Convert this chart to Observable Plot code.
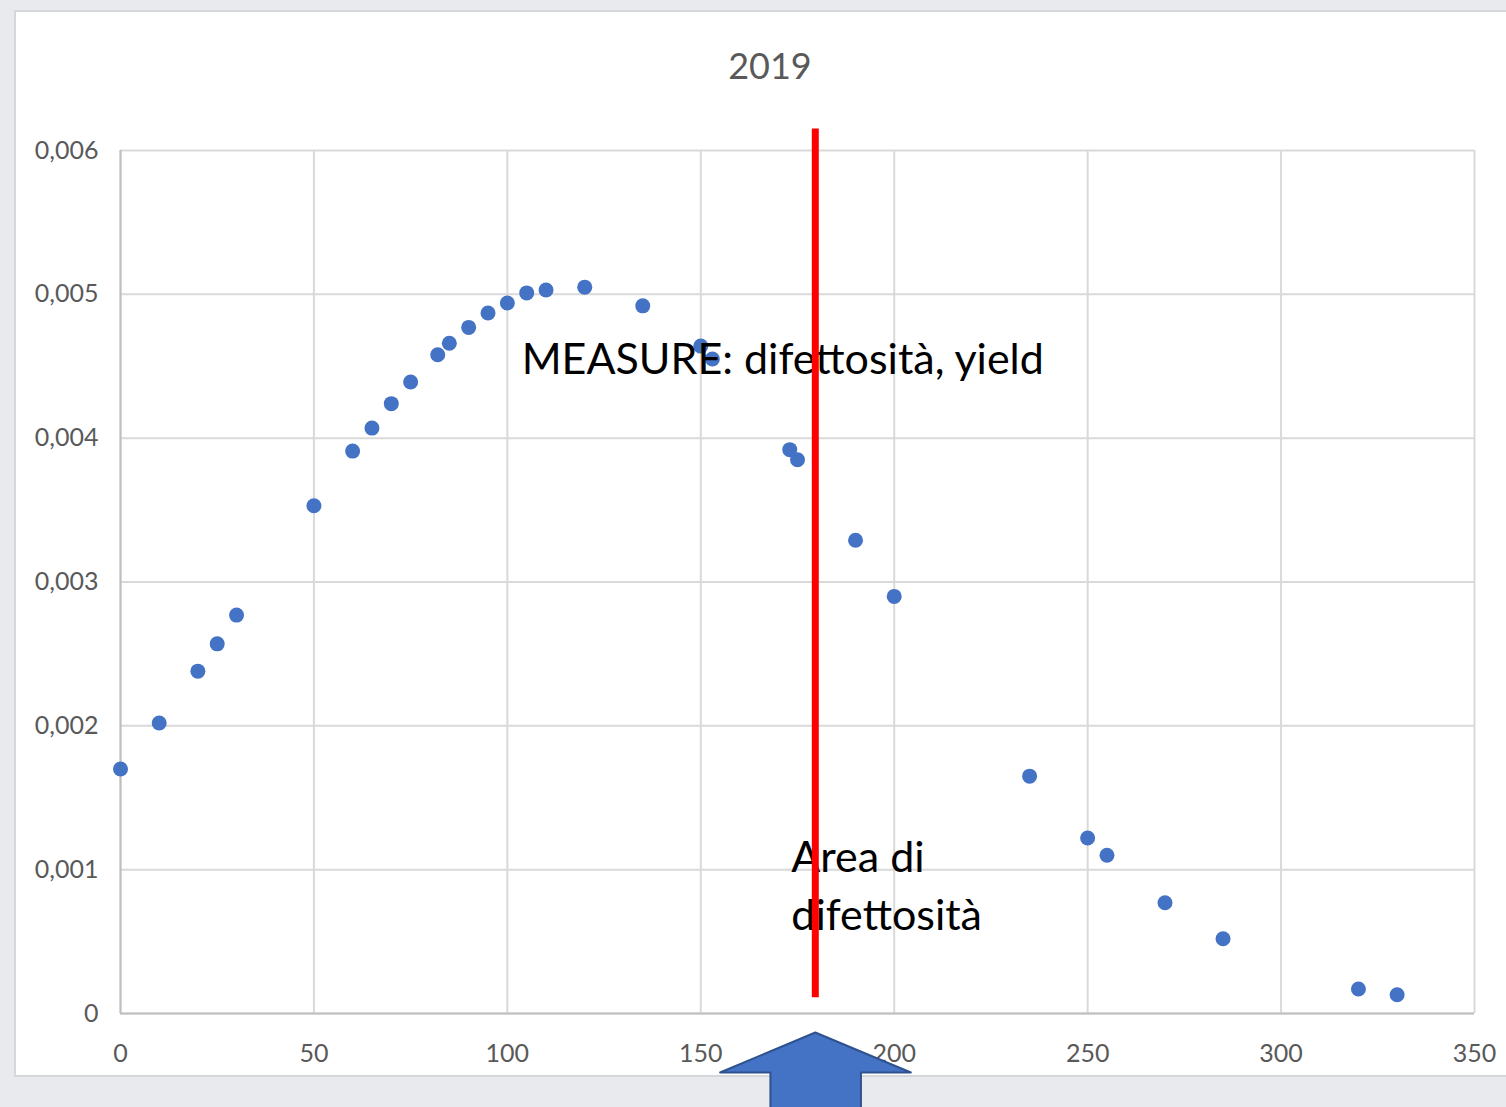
<!DOCTYPE html>
<html>
<head>
<meta charset="utf-8">
<script src="https://cdn.jsdelivr.net/npm/d3@7"></script>
<script src="https://cdn.jsdelivr.net/npm/@observablehq/plot@0.6"></script>
<style>
  html, body { margin: 0; padding: 0; width: 1506px; height: 1107px; overflow: hidden; background: #e8eaee; }
  #card { position: absolute; left: 14px; top: 10px; width: 1500px; height: 1063px; background: #ffffff; border: 2px solid #d6d7da; }
  #title { position: absolute; left: 0; width: 1540px; top: 43px; text-align: center; font-family: Lato, sans-serif; font-size: 36px; color: #595959; }
  #chart { position: absolute; left: 0; top: 0; }
</style>
</head>
<body>
<div id="card"></div>
<div id="title">2019</div>
<div id="chart"></div>
<script>
// Data
const xValues = [0, 10, 20, 25, 30, 50, 60, 65, 70, 75, 82, 85, 90, 95, 100, 105, 110, 120, 135, 150, 153, 173, 175, 190, 200, 235, 250, 255, 270, 285, 320, 330];
const yValues = [0.00170, 0.00202, 0.00238, 0.00257, 0.00277, 0.00353, 0.00391, 0.00407, 0.00424, 0.00439, 0.00458, 0.00466, 0.00477, 0.00487, 0.00494, 0.00501, 0.00503, 0.00505, 0.00492, 0.00464, 0.00455, 0.00392, 0.00385, 0.00329, 0.00290, 0.00165, 0.00122, 0.00110, 0.00077, 0.00052, 0.00017, 0.00013];
const xTicks = [0, 50, 100, 150, 200, 250, 300, 350];
const yTicks = [0, 0.001, 0.002, 0.003, 0.004, 0.005, 0.006];
const markerX = 179.6;
const markerY = [0.00615, 0.00011];
const labelMeasure = "MEASURE: difettosità, yield";
const labelArea = "Area di\ndifettosità";
// arrow outline (data units): x, y
const arrowX = [179.6, 204.3, 191.4, 191.4, 168.0, 168.0, 155.0, 179.6];
const arrowY = [-0.000132, -0.00041, -0.00041, -0.00068, -0.00068, -0.00041, -0.00041, -0.000132];

const points = xValues.map((x, i) => ({x, y: yValues[i]}));
const arrow = arrowX.map((x, i) => ({x, y: arrowY[i]}));
const fmtY = d => d === 0 ? "0" : d.toFixed(3).replace(".", ",");

const plot = Plot.plot({
  width: 1506,
  height: 1107,
  marginLeft: 120,
  marginRight: 32,
  marginTop: 150,
  marginBottom: 94,
  style: {background: "transparent", fontFamily: "Lato, sans-serif", fontSize: "25px", color: "#595959", overflow: "visible"},
  x: {domain: [0, 350]},
  y: {domain: [0, 0.006]},
  marks: [
    Plot.gridX(xTicks, {stroke: "#d9d9d9", strokeOpacity: 1, strokeWidth: 2}),
    Plot.gridY(yTicks, {stroke: "#d9d9d9", strokeOpacity: 1, strokeWidth: 2}),
    Plot.ruleX([0], {stroke: "#bfbfbf", strokeWidth: 2}),
    Plot.ruleY([0], {stroke: "#bfbfbf", strokeWidth: 2}),
    Plot.axisY({ticks: yTicks, tickFormat: fmtY, tickSize: 0, tickPadding: 22, label: null, fontSize: 25}),
    Plot.axisX({ticks: xTicks, tickFormat: d => String(d), tickSize: 0, tickPadding: 31, label: null, fontSize: 25}),
    Plot.dot(points, {x: "x", y: "y", r: 7.5, fill: "#4472C4", stroke: "none"}),
    Plot.text([labelMeasure], {x: 103.7, y: 0.00454, text: d => d, textAnchor: "start", fill: "black", fontSize: 43, fontFamily: "Lato, sans-serif"}),
    Plot.text([labelArea], {x: 173.4, y: 0.00091, text: d => d, textAnchor: "start", lineAnchor: "middle", lineHeight: 1.34, fill: "black", fontSize: 43, fontFamily: "Lato, sans-serif"}),
    Plot.ruleX([markerX], {y1: markerY[0], y2: markerY[1], stroke: "#ff0000", strokeWidth: 7, clip: false}),
    Plot.line(arrow, {x: "x", y: "y", fill: "#4472C4", stroke: "#2F528F", strokeWidth: 2, clip: false})
  ]
});
document.getElementById("chart").appendChild(plot);
</script>
</body>
</html>
